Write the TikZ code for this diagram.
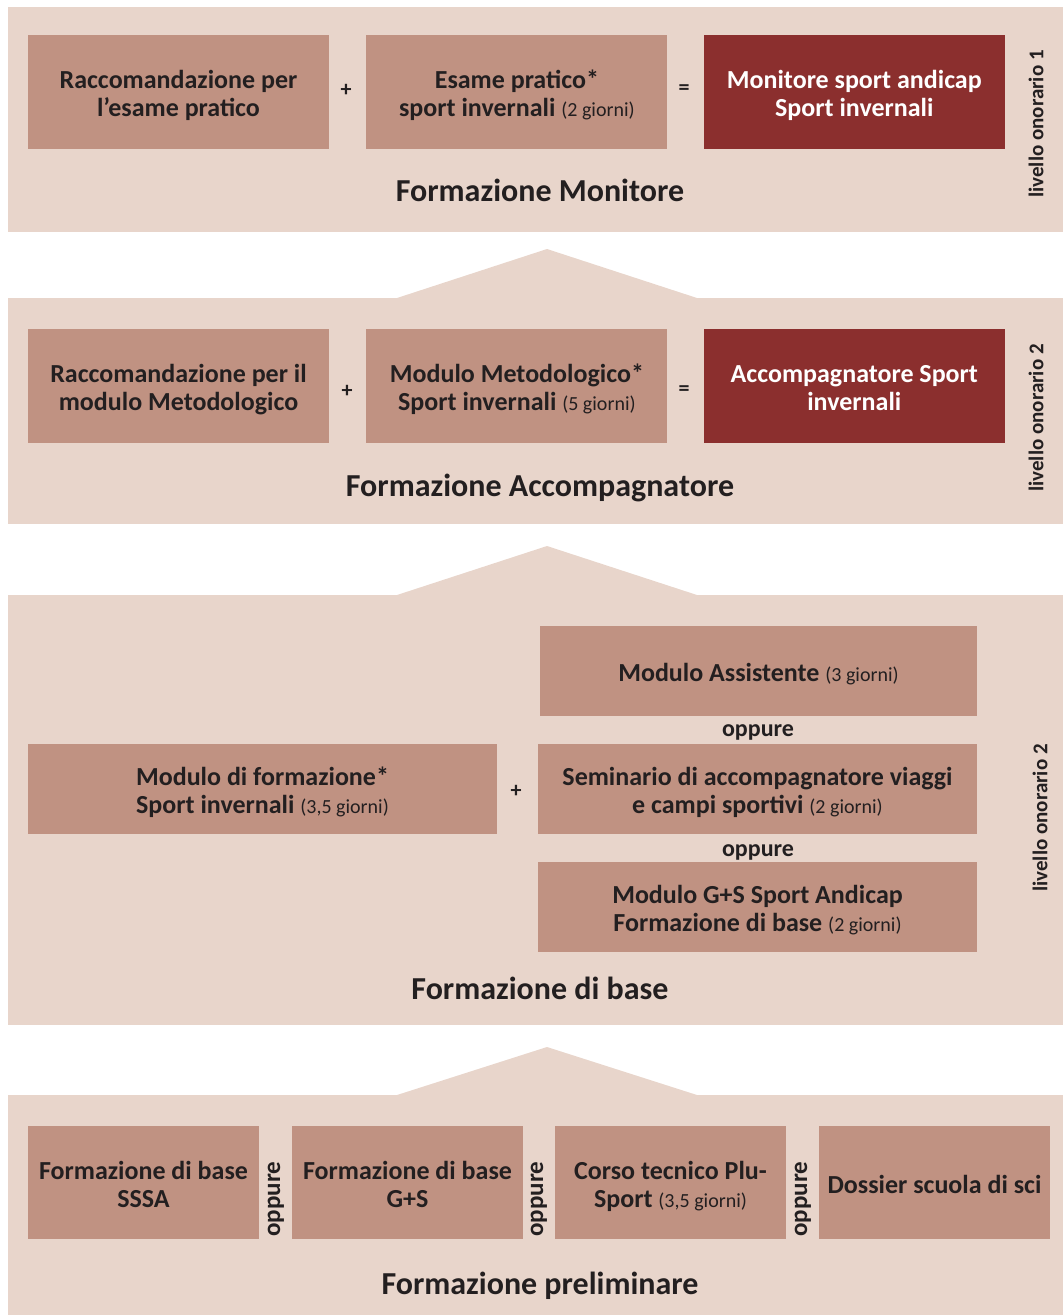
\documentclass[tikz,border=0pt]{standalone}
\usepackage{fontspec}
\setmainfont{Carlito}
\usetikzlibrary{positioning}
\definecolor{fondo}{HTML}{E8D5CB}
\definecolor{modulo}{HTML}{C09282}
\definecolor{diploma}{HTML}{8B2F2E}
\definecolor{testo}{HTML}{231F20}
\newcommand{\durata}[1]{{\fontsize{20}{24}\mdseries\selectfont(#1)}}
\newcommand{\righe}[1]{\begin{tabular}{@{}c@{}}\rule{0pt}{30pt}#1\end{tabular}}

\begin{document}
\begin{tikzpicture}[x=1pt,y=-1pt,
  panel/.style={fill=fondo},
  modbox/.style={fill=modulo,text=testo,font=\fontsize{26}{28}\bfseries\selectfont,
    inner sep=0pt,minimum width=301pt,minimum height=114pt},
  diplbox/.style={modbox,fill=diploma,text=white},
  segno/.style={text=testo,inner sep=0pt,font=\fontsize{22}{22}\bfseries\selectfont},
  oppure/.style={text=testo,inner sep=0pt,font=\fontsize{24}{24}\bfseries\selectfont},
  livello/.style={rotate=90,text=testo,inner sep=0pt,font=\fontsize{21}{21}\bfseries\selectfont},
  fase/.style={text=testo,font=\fontsize{32}{32}\bfseries\selectfont}]
\useasboundingbox (0,0) rectangle (1063,1315);

% sfondi e tetti
\fill[panel] (8,7) rectangle (1063,232);
\fill[panel] (8,298) rectangle (1063,524);
\fill[panel] (397,298) -- (547,249) -- (697,298) -- cycle;
\fill[panel] (8,595) rectangle (1063,1025);
\fill[panel] (397,595) -- (547,546) -- (697,595) -- cycle;
\fill[panel] (8,1095) rectangle (1063,1315);
\fill[panel] (397,1095) -- (547,1047) -- (697,1095) -- cycle;

% Formazione Monitore
\node[modbox] (mon1) at (178.5,92) {\righe{Raccomandazione per\\l'esame pratico}};
\node[modbox] (mon2) [right=37pt of mon1] {\righe{Esame pratico*\\sport invernali \durata{2 giorni}}};
\node[diplbox] (mon3) [right=36pt of mon2] {\righe{Monitore sport andicap\\Sport invernali}};
\node[segno] (monp) at (346,90) {+};
\node[segno] (mone) at (684,90) {=};
\node[fase] (monf) at (540,190) {Formazione Monitore};
\node[livello] (monl) at (1036,124) {livello onorario 1};

% Formazione Accompagnatore
\node[modbox] (acc1) at (178.5,385.5) {\righe{Raccomandazione per il\\modulo Metodologico}};
\node[modbox] (acc2) [right=37pt of acc1] {\righe{Modulo Metodologico*\\Sport invernali \durata{5 giorni}}};
\node[diplbox] (acc3) [right=36pt of acc2] {\righe{Accompagnatore Sport\\invernali}};
\node[segno] (accp) at (347,391) {+};
\node[segno] (acce) at (684,391) {=};
\node[fase] (accf) at (540,488) {Formazione Accompagnatore};
\node[livello] (accl) at (1036,418) {livello onorario 2};

% Formazione di base
\node[modbox,minimum width=437pt,minimum height=90pt] (bas1) at (758.5,671) {\righe{Modulo Assistente \durata{3 giorni}}};
\node[modbox,minimum width=439pt,minimum height=90pt] (bas2) at (757.5,789) {\righe{Seminario di accompagnatore viaggi\\e campi sportivi \durata{2 giorni}}};
\node[modbox,minimum width=439pt,minimum height=90pt] (bas3) at (757.5,907) {\righe{Modulo G+S Sport Andicap\\Formazione di base \durata{2 giorni}}};
\node[modbox,minimum width=469pt,minimum height=90pt] (bas0) at (262.5,789) {\righe{Modulo di formazione*\\Sport invernali \durata{3,5 giorni}}};
\node[oppure] (baso1) at (758,732) {oppure};
\node[oppure] (baso2) at (758,852) {oppure};
\node[segno] (basp) at (516,791) {+};
\node[fase] (basf) at (540,988) {Formazione di base};
\node[livello] (basl) at (1040,818) {livello onorario 2};

% Formazione preliminare
\node[modbox,minimum width=231pt,minimum height=113pt] (pre1) at (143.5,1182.5) {\righe{Formazione di base\\SSSA}};
\node[modbox,minimum width=231pt,minimum height=113pt] (pre2) at (407.5,1182.5) {\righe{Formazione di base\\G+S}};
\node[modbox,minimum width=231pt,minimum height=113pt] (pre3) at (670.5,1182.5) {\righe{Corso tecnico Plu-\\Sport \durata{3,5 giorni}}};
\node[modbox,minimum width=231pt,minimum height=113pt] (pre4) at (934.5,1182.5) {\righe{Dossier scuola di sci}};
\foreach \x/\n in {276/1,539/2,803/3}
  \node[oppure,rotate=90,font=\fontsize{25}{25}\bfseries\selectfont] (preo\n) at (\x,1199) {oppure};
\node[fase] (pref) at (540,1286) {Formazione preliminare};
\end{tikzpicture}
\end{document}
